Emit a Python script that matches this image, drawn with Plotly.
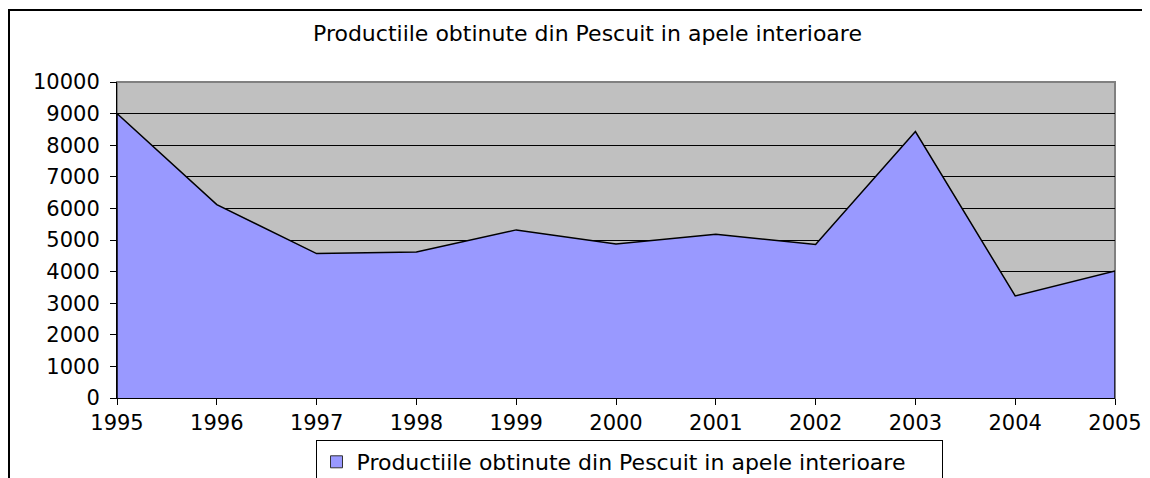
import plotly.graph_objects as go

years = [1995, 1996, 1997, 1998, 1999, 2000, 2001, 2002, 2003, 2004, 2005]
production = [9000, 6120, 4570, 4620, 5320, 4870, 5180, 4860, 8430, 3230, 4020]
series_name = "Productiile obtinute din Pescuit in apele interioare"
chart_title = "Productiile obtinute din Pescuit in apele interioare"
y_ticks = [0, 1000, 2000, 3000, 4000, 5000, 6000, 7000, 8000, 9000, 10000]

# page has an 8px body margin: work in reference pixels, shift by OFF
OFF = 8
W, H = 1150 - OFF, 478 - OFF
L, R, T, B = 117 - OFF, 1115 - OFF, 82 - OFF, 398 - OFF
pw, ph = R - L, B - T

def px(x):
    return (x - OFF - L) / pw

def py(y):
    return (B - (y - OFF)) / ph

def cx(x):
    return (x - OFF) / W

def cy(y):
    return (H - (y - OFF)) / H

FONT = "DejaVu Sans"
fs = 21
fs_big = 22
fs_leg = 22

# closed polygon so the outline also runs down both ends to zero
xs = [years[0]] + years + [years[-1]]
ys = [0] + production + [0]

fig = go.Figure()
fig.add_trace(go.Scatter(
    x=xs, y=ys, mode="lines", fill="toself",
    fillcolor="#9999FF", line=dict(color="black", width=1.5),
    name=series_name, showlegend=False, hoverinfo="x+y",
))
# legend-only entry (square swatch like the original)
fig.add_trace(go.Bar(
    x=[None], y=[None], name=series_name,
    marker=dict(color="#9999FF", line=dict(color="#333333", width=1)),
    showlegend=True, hoverinfo="skip",
))

fig.update_layout(
    width=W, height=H,
    margin=dict(l=L, r=W - R, t=T, b=H - B, pad=0, autoexpand=False),
    paper_bgcolor="white", plot_bgcolor="#C0C0C0",
    font=dict(family=FONT, size=fs, color="black"),
    showlegend=True,
    legend=dict(
        xref="container", yref="container",
        x=cx(629), y=cy(440), xanchor="center", yanchor="top",
        orientation="h", bordercolor="black", borderwidth=1,
        bgcolor="white", font=dict(family=FONT, size=fs_leg),
        itemwidth=30, tracegroupgap=0, entrywidth=580,
    ),
    xaxis=dict(
        range=[years[0], years[-1]], tickmode="array", tickvals=years,
        ticktext=[str(y) for y in years], showgrid=False, zeroline=False,
        showline=True, linecolor="black", linewidth=1,
        ticks="outside", ticklen=6, tickcolor="black",
        tickfont=dict(family=FONT, size=fs), automargin=False,
    ),
    yaxis=dict(
        range=[0, 10000], tickmode="array", tickvals=y_ticks,
        ticktext=[str(v) for v in y_ticks], showgrid=True,
        gridcolor="black", gridwidth=1, zeroline=False,
        showline=True, linecolor="black", linewidth=1,
        ticks="outside", ticklen=6, tickcolor="black",
        tickfont=dict(family=FONT, size=fs), ticklabelstandoff=6,
        automargin=False,
    ),
    annotations=[dict(
        text=chart_title, x=px(587), y=py(33), xref="paper", yref="paper",
        xanchor="center", yanchor="middle", showarrow=False,
        font=dict(family=FONT, size=fs_big, color="black"),
    )],
    shapes=[
        dict(type="rect", xref="paper", yref="paper", x0=0, x1=1, y0=0, y1=1,
             line=dict(color="#808080", width=2), layer="below"),
        dict(type="line", xref="paper", yref="paper", x0=px(8), x1=px(1160),
             y0=py(10), y1=py(10), line=dict(color="black", width=2)),
        dict(type="line", xref="paper", yref="paper", x0=px(9), x1=px(9),
             y0=py(10), y1=py(490), line=dict(color="black", width=2)),
    ],
)

fig.write_html("out.html")
